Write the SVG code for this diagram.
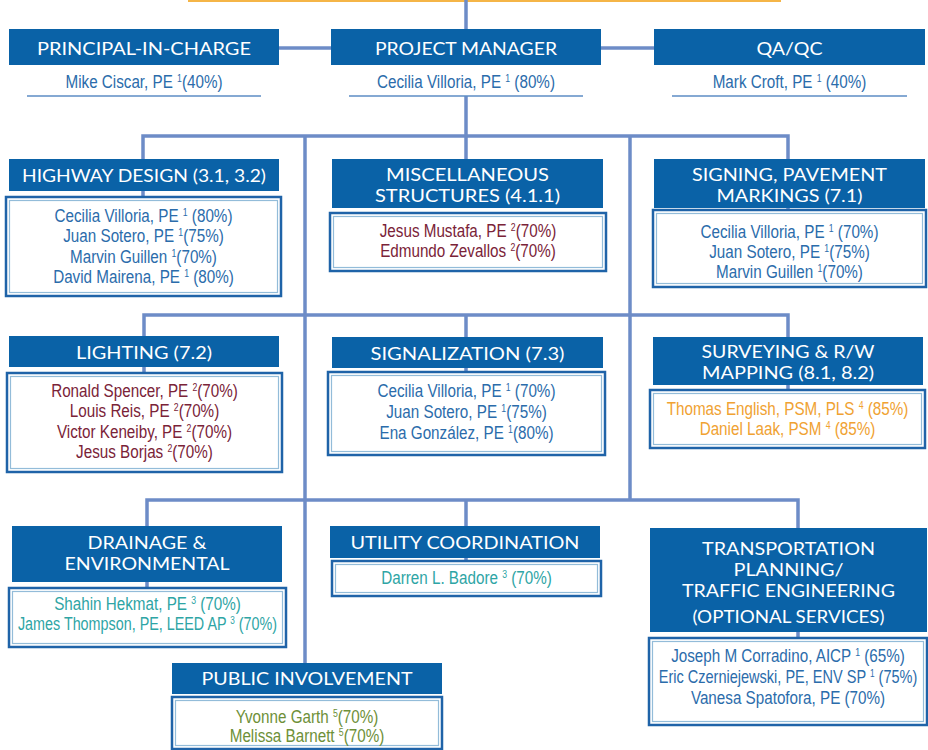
<svg xmlns="http://www.w3.org/2000/svg" width="928" height="750" viewBox="0 0 928 750">
<style>
.hdr{fill:#0a62a7}
.ht{font-family:Lato,'Open Sans',sans-serif;font-size:17.2px;fill:#ffffff;text-anchor:middle}
.nm{font-family:'Liberation Sans',Arial,sans-serif;font-size:17.5px;text-anchor:middle}
.sup{font-size:10px}
.box{fill:#ffffff;stroke:#1f63a8;stroke-width:2.5}
.inner{fill:none;stroke:#93bcd9;stroke-width:1.2}
.ul{stroke:#5d8cc5;stroke-width:1.5}
.blue{fill:#2b6cab}
.mar{fill:#7a2338}
.org{fill:#f0a232}
.teal{fill:#2ea5a5}
.grn{fill:#6e9038}
</style>
<rect x="188" y="0" width="593" height="2" fill="#f5b547"/>
<g id="connectors" fill="none" stroke="#6d8cc7" stroke-width="3.5">
<line x1="466" y1="0" x2="466" y2="30"/>
<line x1="279" y1="48" x2="331" y2="48"/>
<line x1="601" y1="48" x2="654" y2="48"/>
<line x1="466" y1="96" x2="466" y2="136"/>
<path d="M143 198 V136 H788 V210"/>
<line x1="466" y1="136" x2="466" y2="165"/>
<line x1="305" y1="136" x2="305" y2="668"/>
<line x1="630" y1="136" x2="630" y2="500"/>
<path d="M144 374 V315 H788 V391"/>
<line x1="466" y1="315" x2="466" y2="373"/>
<path d="M147 589 V500 H798 V639"/>
<line x1="466" y1="500" x2="466" y2="562"/>
</g>
<g id="principal">
<rect class="hdr" x="9" y="29" width="270" height="36"/>
<text class="ht" x="144" y="55" textLength="214" lengthAdjust="spacingAndGlyphs">PRINCIPAL-IN-CHARGE</text>
<line class="ul" x1="27" y1="96" x2="261" y2="96"/>
<g transform="translate(144,0) scale(0.87,1)"><text class="nm blue" y="88">Mike Ciscar, PE <tspan class="sup" dy="-6">1</tspan><tspan dy="6">(40%)</tspan></text></g>
</g>
<g id="project-manager">
<rect class="hdr" x="331" y="29" width="270" height="36"/>
<text class="ht" x="466" y="55" textLength="182" lengthAdjust="spacingAndGlyphs">PROJECT MANAGER</text>
<line class="ul" x1="349" y1="96" x2="583" y2="96"/>
<g transform="translate(466,0) scale(0.87,1)"><text class="nm blue" y="88">Cecilia Villoria, PE <tspan class="sup" dy="-6">1</tspan><tspan dy="6"> (80%)</tspan></text></g>
</g>
<g id="qaqc">
<rect class="hdr" x="654" y="29" width="271" height="36"/>
<text class="ht" x="789.5" y="55" textLength="66" lengthAdjust="spacingAndGlyphs">QA/QC</text>
<line class="ul" x1="672" y1="96" x2="907" y2="96"/>
<g transform="translate(789.5,0) scale(0.87,1)"><text class="nm blue" y="88">Mark Croft, PE <tspan class="sup" dy="-6">1</tspan><tspan dy="6"> (40%)</tspan></text></g>
</g>
<g id="highway-design">
<rect class="hdr" x="9" y="159" width="270" height="32"/>
<text class="ht" x="144" y="181.5" textLength="244" lengthAdjust="spacingAndGlyphs">HIGHWAY DESIGN (3.1, 3.2)</text>
<rect class="box" x="6" y="197" width="275" height="99"/>
<rect class="inner" x="9.5" y="200.5" width="268" height="92"/>
<g transform="translate(143.5,0) scale(0.87,1)">
<text class="nm blue" y="222">Cecilia Villoria, PE <tspan class="sup" dy="-6">1</tspan><tspan dy="6"> (80%)</tspan></text>
<text class="nm blue" y="242.5">Juan Sotero, PE <tspan class="sup" dy="-6">1</tspan><tspan dy="6">(75%)</tspan></text>
<text class="nm blue" y="263">Marvin Guillen <tspan class="sup" dy="-6">1</tspan><tspan dy="6">(70%)</tspan></text>
<text class="nm blue" y="283.5">David Mairena, PE <tspan class="sup" dy="-6">1</tspan><tspan dy="6"> (80%)</tspan></text>
</g>
</g>
<g id="misc-structures">
<rect class="hdr" x="332" y="159" width="271" height="49"/>
<text class="ht"><tspan x="467.5" y="181" textLength="163" lengthAdjust="spacingAndGlyphs">MISCELLANEOUS</tspan><tspan x="467.5" y="202" textLength="185" lengthAdjust="spacingAndGlyphs">STRUCTURES (4.1.1)</tspan></text>
<rect class="box" x="330" y="213" width="276" height="58"/>
<rect class="inner" x="333.5" y="216.5" width="269" height="51"/>
<g transform="translate(468,0) scale(0.87,1)">
<text class="nm mar" y="237">Jesus Mustafa, PE <tspan class="sup" dy="-6">2</tspan><tspan dy="6">(70%)</tspan></text>
<text class="nm mar" y="257.5">Edmundo Zevallos <tspan class="sup" dy="-6">2</tspan><tspan dy="6">(70%)</tspan></text>
</g>
</g>
<g id="signing">
<rect class="hdr" x="654" y="159" width="271" height="49"/>
<text class="ht"><tspan x="789.5" y="181" textLength="195" lengthAdjust="spacingAndGlyphs">SIGNING, PAVEMENT</tspan><tspan x="789.5" y="202" textLength="146" lengthAdjust="spacingAndGlyphs">MARKINGS (7.1)</tspan></text>
<rect class="box" x="653" y="210" width="273" height="77"/>
<rect class="inner" x="656.5" y="213.5" width="266" height="70"/>
<g transform="translate(789.5,0) scale(0.87,1)">
<text class="nm blue" y="238">Cecilia Villoria, PE <tspan class="sup" dy="-6">1</tspan><tspan dy="6"> (70%)</tspan></text>
<text class="nm blue" y="258.5">Juan Sotero, PE <tspan class="sup" dy="-6">1</tspan><tspan dy="6">(75%)</tspan></text>
<text class="nm blue" y="278.5">Marvin Guillen <tspan class="sup" dy="-6">1</tspan><tspan dy="6">(70%)</tspan></text>
</g>
</g>
<g id="lighting">
<rect class="hdr" x="9" y="336" width="270" height="31"/>
<text class="ht" x="144" y="358.5" textLength="136" lengthAdjust="spacingAndGlyphs">LIGHTING (7.2)</text>
<rect class="box" x="7" y="373" width="275" height="99"/>
<rect class="inner" x="10.5" y="376.5" width="268" height="92"/>
<g transform="translate(144.5,0) scale(0.87,1)">
<text class="nm mar" y="397">Ronald Spencer, PE <tspan class="sup" dy="-6">2</tspan><tspan dy="6">(70%)</tspan></text>
<text class="nm mar" y="417.5">Louis Reis, PE <tspan class="sup" dy="-6">2</tspan><tspan dy="6">(70%)</tspan></text>
<text class="nm mar" y="438">Victor Keneiby, PE <tspan class="sup" dy="-6">2</tspan><tspan dy="6">(70%)</tspan></text>
<text class="nm mar" y="458.5">Jesus Borjas <tspan class="sup" dy="-6">2</tspan><tspan dy="6">(70%)</tspan></text>
</g>
</g>
<g id="signalization">
<rect class="hdr" x="332" y="337" width="271" height="31"/>
<text class="ht" x="467.5" y="359.5" textLength="194" lengthAdjust="spacingAndGlyphs">SIGNALIZATION (7.3)</text>
<rect class="box" x="328" y="372" width="277" height="83"/>
<rect class="inner" x="331.5" y="375.5" width="270" height="76"/>
<g transform="translate(466.5,0) scale(0.87,1)">
<text class="nm blue" y="397">Cecilia Villoria, PE <tspan class="sup" dy="-6">1</tspan><tspan dy="6"> (70%)</tspan></text>
<text class="nm blue" y="418">Juan Sotero, PE <tspan class="sup" dy="-6">1</tspan><tspan dy="6">(75%)</tspan></text>
<text class="nm blue" y="439">Ena González, PE <tspan class="sup" dy="-6">1</tspan><tspan dy="6">(80%)</tspan></text>
</g>
</g>
<g id="surveying">
<rect class="hdr" x="653" y="337" width="270" height="48"/>
<text class="ht"><tspan x="788" y="358" textLength="173" lengthAdjust="spacingAndGlyphs">SURVEYING &amp; R/W</tspan><tspan x="788" y="379" textLength="172" lengthAdjust="spacingAndGlyphs">MAPPING (8.1, 8.2)</tspan></text>
<rect class="box" x="650" y="390" width="275" height="58"/>
<rect class="inner" x="653.5" y="393.5" width="268" height="51"/>
<g transform="translate(787.5,0) scale(0.87,1)">
<text class="nm org" y="415">Thomas English, PSM, PLS <tspan class="sup" dy="-6">4</tspan><tspan dy="6"> (85%)</tspan></text>
<text class="nm org" y="435.5">Daniel Laak, PSM <tspan class="sup" dy="-6">4</tspan><tspan dy="6"> (85%)</tspan></text>
</g>
</g>
<g id="drainage">
<rect class="hdr" x="12" y="526" width="270" height="56"/>
<text class="ht"><tspan x="147" y="549" textLength="119" lengthAdjust="spacingAndGlyphs">DRAINAGE &amp;</tspan><tspan x="147" y="570" textLength="165" lengthAdjust="spacingAndGlyphs">ENVIRONMENTAL</tspan></text>
<rect class="box" x="9" y="588" width="277" height="59"/>
<rect class="inner" x="12.5" y="591.5" width="270" height="52"/>
<g transform="translate(147.5,0) scale(0.87,1)">
<text class="nm teal" y="610">Shahin Hekmat, PE <tspan class="sup" dy="-6">3</tspan><tspan dy="6"> (70%)</tspan></text>
</g>
<g transform="translate(147.5,0) scale(0.82,1)">
<text class="nm teal" y="630.5">James Thompson, PE, LEED AP <tspan class="sup" dy="-6">3</tspan><tspan dy="6"> (70%)</tspan></text>
</g>
</g>
<g id="utility">
<rect class="hdr" x="330" y="526" width="270" height="32"/>
<text class="ht" x="465" y="548.5" textLength="229" lengthAdjust="spacingAndGlyphs">UTILITY COORDINATION</text>
<rect class="box" x="332" y="561" width="269" height="35"/>
<rect class="inner" x="335.5" y="564.5" width="262" height="28"/>
<g transform="translate(466.5,0) scale(0.87,1)">
<text class="nm teal" y="584">Darren L. Badore <tspan class="sup" dy="-6">3</tspan><tspan dy="6"> (70%)</tspan></text>
</g>
</g>
<g id="transportation">
<rect class="hdr" x="650" y="528" width="277" height="104"/>
<text class="ht"><tspan x="788.5" y="555" textLength="173" lengthAdjust="spacingAndGlyphs">TRANSPORTATION</tspan><tspan x="788.5" y="576" textLength="110" lengthAdjust="spacingAndGlyphs">PLANNING/</tspan><tspan x="788.5" y="597" textLength="213" lengthAdjust="spacingAndGlyphs">TRAFFIC ENGINEERING</tspan><tspan x="788.5" y="623" textLength="192" lengthAdjust="spacingAndGlyphs">(OPTIONAL SERVICES)</tspan></text>
<rect class="box" x="649" y="638" width="278" height="87"/>
<rect class="inner" x="652.5" y="641.5" width="271" height="80"/>
<g transform="translate(788,0) scale(0.87,1)">
<text class="nm blue" y="662">Joseph M Corradino, AICP <tspan class="sup" dy="-6">1</tspan><tspan dy="6"> (65%)</tspan></text>
<text class="nm blue" y="704.5">Vanesa Spatofora, PE (70%)</text>
</g>
<g transform="translate(788,0) scale(0.83,1)">
<text class="nm blue" y="683.5">Eric Czerniejewski, PE, ENV SP <tspan class="sup" dy="-6">1</tspan><tspan dy="6"> (75%)</tspan></text>
</g>
</g>
<g id="public-involvement">
<rect class="hdr" x="172" y="663" width="270" height="31"/>
<text class="ht" x="307" y="684.5" textLength="211" lengthAdjust="spacingAndGlyphs">PUBLIC INVOLVEMENT</text>
<rect class="box" x="172" y="697" width="270" height="52"/>
<rect class="inner" x="175.5" y="700.5" width="263" height="45"/>
<g transform="translate(307,0) scale(0.87,1)">
<text class="nm grn" y="723">Yvonne Garth <tspan class="sup" dy="-6">5</tspan><tspan dy="6">(70%)</tspan></text>
<text class="nm grn" y="742">Melissa Barnett <tspan class="sup" dy="-6">5</tspan><tspan dy="6">(70%)</tspan></text>
</g>
</g>
</svg>
